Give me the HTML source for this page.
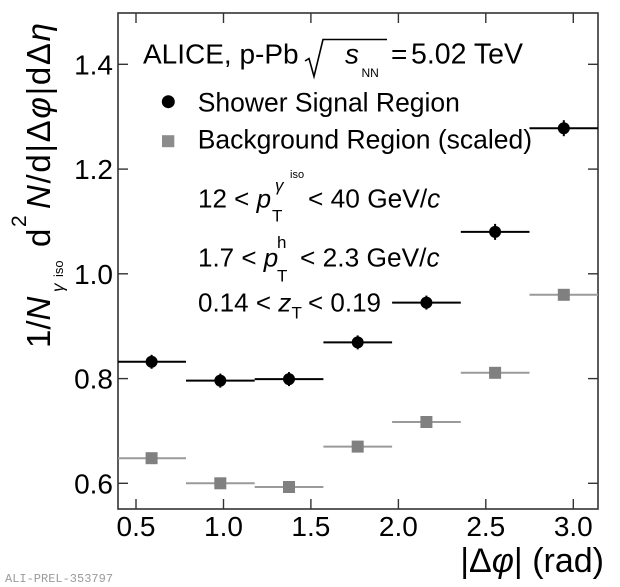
<!DOCTYPE html>
<html>
<head>
<meta charset="utf-8">
<style>
  html, body { margin:0; padding:0; background:#fff; }
  svg { display:block; }
  text { font-family: "Liberation Sans", "DejaVu Sans", sans-serif; fill:#000; }
</style>
</head>
<body>
<svg width="620" height="587" viewBox="0 0 620 587" xmlns="http://www.w3.org/2000/svg">
  <rect x="0" y="0" width="620" height="587" fill="#fff"/>

  <!-- frame -->
  <rect x="118" y="13" width="480" height="496" fill="none" stroke="#333" stroke-width="1.6"/>

  <!-- x ticks bottom and top -->
  <g stroke="#333" stroke-width="1.4">
    <line x1="136" y1="509" x2="136" y2="499"/>
    <line x1="223.5" y1="509" x2="223.5" y2="499"/>
    <line x1="310.9" y1="509" x2="310.9" y2="499"/>
    <line x1="398.4" y1="509" x2="398.4" y2="499"/>
    <line x1="485.8" y1="509" x2="485.8" y2="499"/>
    <line x1="573.3" y1="509" x2="573.3" y2="499"/>
    <line x1="136" y1="13" x2="136" y2="23"/>
    <line x1="223.5" y1="13" x2="223.5" y2="23"/>
    <line x1="310.9" y1="13" x2="310.9" y2="23"/>
    <line x1="398.4" y1="13" x2="398.4" y2="23"/>
    <line x1="485.8" y1="13" x2="485.8" y2="23"/>
    <line x1="573.3" y1="13" x2="573.3" y2="23"/>
    <!-- y ticks left and right -->
    <line x1="118" y1="483.3" x2="128" y2="483.3"/>
    <line x1="118" y1="378.6" x2="128" y2="378.6"/>
    <line x1="118" y1="273.8" x2="128" y2="273.8"/>
    <line x1="118" y1="169.1" x2="128" y2="169.1"/>
    <line x1="118" y1="64.3" x2="128" y2="64.3"/>
    <line x1="598" y1="483.3" x2="588" y2="483.3"/>
    <line x1="598" y1="378.6" x2="588" y2="378.6"/>
    <line x1="598" y1="273.8" x2="588" y2="273.8"/>
    <line x1="598" y1="169.1" x2="588" y2="169.1"/>
    <line x1="598" y1="64.3" x2="588" y2="64.3"/>
  </g>

  <!-- x tick labels -->
  <g font-size="28" text-anchor="middle">
    <text x="136" y="536">0.5</text>
    <text x="223.5" y="536">1.0</text>
    <text x="310.9" y="536">1.5</text>
    <text x="398.4" y="536">2.0</text>
    <text x="485.8" y="536">2.5</text>
    <text x="573.3" y="536">3.0</text>
  </g>
  <!-- y tick labels -->
  <g font-size="28" text-anchor="end">
    <text x="113" y="493.3">0.6</text>
    <text x="113" y="388.6">0.8</text>
    <text x="113" y="283.8">1.0</text>
    <text x="113" y="179.1">1.2</text>
    <text x="113" y="74.3">1.4</text>
  </g>

  <!-- x axis title -->
  <text x="604" y="572" font-size="34" text-anchor="end">|Δ<tspan font-style="italic">φ</tspan>| (rad)</text>

  <!-- y axis title (rotated) -->
  <g transform="translate(50,348) rotate(-90)">
    <text x="0" y="0" font-size="33">1/<tspan font-style="italic">N</tspan></text>
    <text x="56" y="13.5" font-size="17" font-style="italic">γ</text>
    <text x="71" y="13" font-size="13">iso</text>
    <text x="101" y="0" font-size="33">d</text>
    <text x="121" y="-24" font-size="21">2</text>
    <text x="139" y="0" font-size="33" textLength="186" lengthAdjust="spacing"><tspan font-style="italic">N</tspan>/d|Δ<tspan font-style="italic">φ</tspan>|dΔ<tspan font-style="italic">η</tspan></text>
  </g>

  <!-- Background series (gray) -->
  <g stroke="#9a9a9a" stroke-width="2">
    <line x1="118" y1="458.2" x2="186" y2="458.2"/>
    <line x1="186" y1="483.3" x2="254.7" y2="483.3"/>
    <line x1="254.7" y1="487" x2="323.4" y2="487"/>
    <line x1="323.4" y1="446.6" x2="392.1" y2="446.6"/>
    <line x1="392.1" y1="422" x2="460.8" y2="422"/>
    <line x1="460.8" y1="372.8" x2="529.5" y2="372.8"/>
    <line x1="529.5" y1="294.8" x2="598" y2="294.8"/>
  </g>
  <g fill="#808080">
    <rect x="145.6" y="452.2" width="12" height="12"/>
    <rect x="214.3" y="477.3" width="12" height="12"/>
    <rect x="283" y="481" width="12" height="12"/>
    <rect x="351.7" y="440.6" width="12" height="12"/>
    <rect x="420.4" y="416" width="12" height="12"/>
    <rect x="489.1" y="366.8" width="12" height="12"/>
    <rect x="557.8" y="288.8" width="12" height="12"/>
  </g>

  <!-- Signal series (black) -->
  <g stroke="#000" stroke-width="2">
    <line x1="118" y1="361.8" x2="186" y2="361.8"/>
    <line x1="186" y1="380.6" x2="254.7" y2="380.6"/>
    <line x1="254.7" y1="379.1" x2="323.4" y2="379.1"/>
    <line x1="323.4" y1="342.4" x2="392.1" y2="342.4"/>
    <line x1="392.1" y1="302.6" x2="460.8" y2="302.6"/>
    <line x1="460.8" y1="231.9" x2="529.5" y2="231.9"/>
    <line x1="529.5" y1="128.2" x2="598" y2="128.2"/>
    <line x1="151.6" y1="354.8" x2="151.6" y2="368.8"/>
    <line x1="220.3" y1="373.6" x2="220.3" y2="387.6"/>
    <line x1="289" y1="372.1" x2="289" y2="386.1"/>
    <line x1="357.7" y1="335.4" x2="357.7" y2="349.4"/>
    <line x1="426.4" y1="295.6" x2="426.4" y2="309.6"/>
    <line x1="495.1" y1="223.9" x2="495.1" y2="239.9"/>
    <line x1="563.8" y1="120.2" x2="563.8" y2="136.2"/>
  </g>
  <g fill="#000">
    <circle cx="151.6" cy="361.8" r="6"/>
    <circle cx="220.3" cy="380.6" r="6"/>
    <circle cx="289" cy="379.1" r="6"/>
    <circle cx="357.7" cy="342.4" r="6"/>
    <circle cx="426.4" cy="302.6" r="6"/>
    <circle cx="495.1" cy="231.9" r="6"/>
    <circle cx="563.8" cy="128.2" r="6"/>
  </g>

  <!-- ALICE header -->
  <text x="143" y="63.3" font-size="28">ALICE, p-Pb</text>
  <path d="M305,61 L309,58.5 L314,76.5 L323,39.5 L387,39.5" fill="none" stroke="#000" stroke-width="1.6"/>
  <text x="345" y="63.3" font-size="28" font-style="italic">s</text>
  <text x="361.5" y="77" font-size="12">NN</text>
  <text x="391" y="63.3" font-size="28">=</text>
  <text x="411" y="63.3" font-size="28.5">5.02 TeV</text>

  <!-- Legend -->
  <circle cx="168.3" cy="101.7" r="6.5" fill="#000"/>
  <text x="197.7" y="111.7" font-size="26.5">Shower Signal Region</text>
  <rect x="162" y="135.2" width="12.3" height="12" fill="#8c8c8c"/>
  <text x="197.7" y="148.3" font-size="26.5">Background Region (scaled)</text>

  <!-- Cuts -->
  <text x="198" y="207.5" font-size="26">12 &lt; <tspan font-style="italic">p</tspan></text>
  <text x="272" y="221.5" font-size="17">T</text>
  <text x="275" y="191" font-size="17" font-style="italic">γ</text>
  <text x="290" y="178" font-size="11">iso</text>
  <text x="308" y="207.5" font-size="26.3">&lt; 40 GeV/<tspan font-style="italic">c</tspan></text>

  <text x="198" y="266.5" font-size="26">1.7 &lt; <tspan font-style="italic">p</tspan></text>
  <text x="277" y="248" font-size="17">h</text>
  <text x="277" y="281.5" font-size="17">T</text>
  <text x="300" y="266.5" font-size="26.3">&lt; 2.3 GeV/<tspan font-style="italic">c</tspan></text>

  <text x="198" y="311.5" font-size="26">0.14 &lt; <tspan font-style="italic">z</tspan></text>
  <text x="291.5" y="318.5" font-size="17">T</text>
  <text x="308" y="311.5" font-size="26">&lt; 0.19</text>

  <!-- watermark -->
  <text x="5" y="582" font-size="12" style="font-family:'Liberation Mono', monospace; fill:#9a9a9a;">ALI-PREL-353797</text>
</svg>
</body>
</html>
